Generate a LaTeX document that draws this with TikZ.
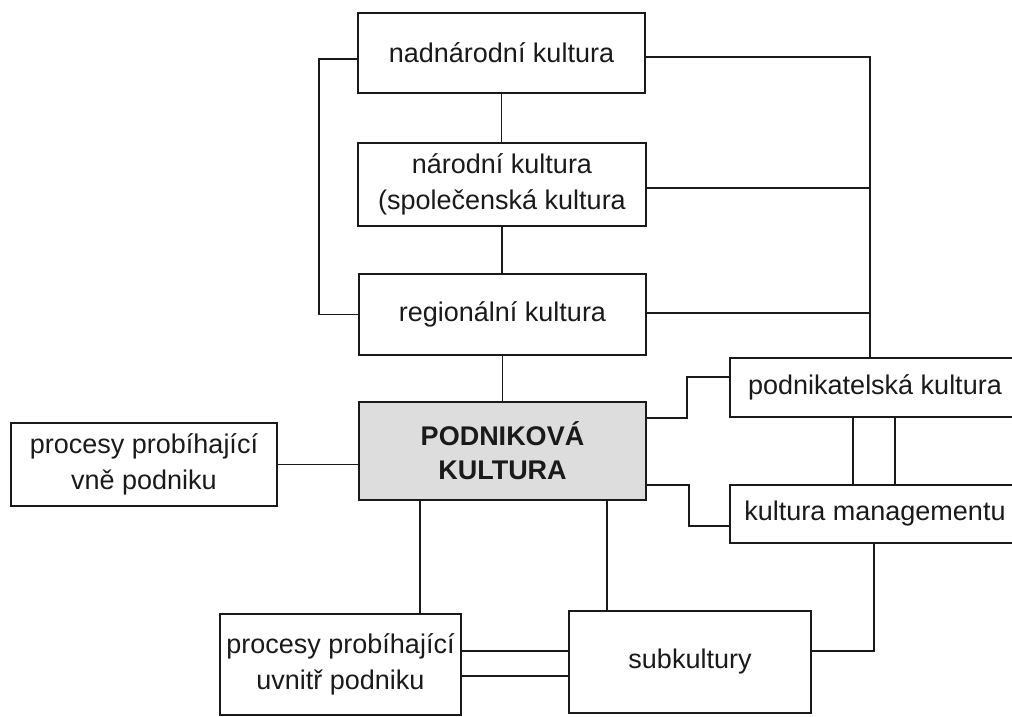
\documentclass[tikz,border=0pt]{standalone}
\usepackage{fontspec}
\setmainfont{Liberation Sans}
\definecolor{ink}{HTML}{1A1A1A}
\definecolor{pkfill}{HTML}{DDDDDD}
\begin{document}
\begin{tikzpicture}[x=1pt,y=-1pt,
  box/.style={draw=ink,line width=1.9pt,inner sep=0pt,outer sep=0pt,align=center,
    text=ink,font=\fontsize{27}{36}\selectfont,fill=white},
  conn/.style={draw=ink,line width=1.8pt}]
\useasboundingbox (0,0) rectangle (1012,716);
\fill[white] (0,0) rectangle (1012,716);
\clip (0,0) rectangle (1012,716);
% nodes
\node[box,minimum width=287pt,minimum height=80pt] (nad) at (501.5,53) {nadnárodní kultura};
\node[box,minimum width=288pt,minimum height=83pt] (nar) at (502,184.5) {národní kultura\\(společenská kultura};
\node[box,minimum width=287pt,minimum height=81pt] (reg) at (502.5,314.5) {regionální kultura};
\node[box,minimum width=287pt,minimum height=98pt,fill=pkfill,font=\fontsize{27}{34}\selectfont\bfseries] (pk) at (502.5,451) {PODNIKOVÁ\\KULTURA};
\node[box,minimum width=266pt,minimum height=83pt] (vne) at (144,464.5) {procesy probíhající\\vně podniku};
\node[box,minimum width=290pt,minimum height=59pt] (pod) at (875,387.5) {podnikatelská kultura};
\node[box,minimum width=290pt,minimum height=58pt] (man) at (875,514) {kultura managementu};
\node[box,minimum width=241pt,minimum height=101pt] (uvn) at (340.5,664.5) {procesy probíhající\\uvnitř podniku};
\node[box,minimum width=242pt,minimum height=102pt] (sub) at (690,662) {subkultury};
\coordinate (rb) at (870,358);
% vertical chain
\draw[conn] (nad.south) -- (nad.south |- nar.north);
\draw[conn] (nar.south) -- (nar.south |- reg.north);
\draw[conn] (reg.south) -- (reg.south |- pk.north);
% left bus
\draw[conn] ([yshift=-6pt]nad.west) -- ++(-39,0) |- (reg.west);
% right bus
\draw[conn] ([yshift=-4pt]nad.east) -| (rb);
\draw[conn] ([yshift=-3.5pt]nar.east) -- ([yshift=-3.5pt]nar.east -| rb);
\draw[conn] ([yshift=1.5pt]reg.east) -- ([yshift=1.5pt]reg.east -| rb);
% left process
\draw[conn] (vne.east) -- (vne.east -| pk.west);
% right side
\draw[conn] ([yshift=33pt]pk.east) -- ++(41,0) |- ([yshift=10.5pt]pod.west);
\draw[conn] ([yshift=-34pt]pk.east) -- ++(43,0) |- ([yshift=-12pt]man.west);
\draw[conn] ([xshift=-22pt]pod.south) -- ([xshift=-22pt]pod.south |- man.north);
\draw[conn] ([xshift=20pt]pod.south) -- ([xshift=20pt]pod.south |- man.north);
\draw[conn] ([xshift=-1pt]man.south) |- ([yshift=11pt]sub.east);
% bottom
\draw[conn] ([xshift=-82.5pt]pk.south) -- ([xshift=-82.5pt]pk.south |- uvn.north);
\draw[conn] ([xshift=104.5pt]pk.south) -- ([xshift=104.5pt]pk.south |- sub.north);
\draw[conn] ([yshift=13.5pt]uvn.east) -- ([yshift=13.5pt]uvn.east -| sub.west);
\draw[conn] ([yshift=-11.5pt]uvn.east) -- ([yshift=-11.5pt]uvn.east -| sub.west);
\end{tikzpicture}
\end{document}
